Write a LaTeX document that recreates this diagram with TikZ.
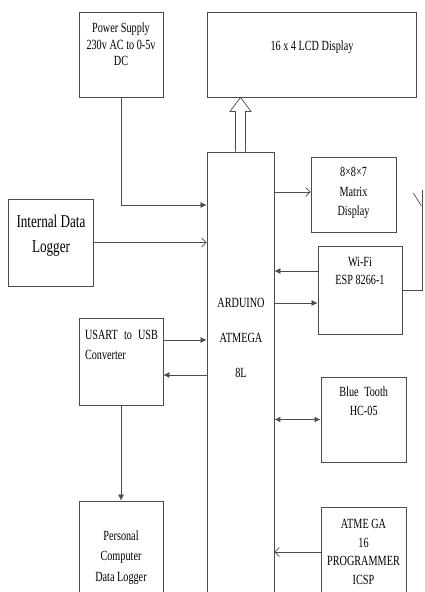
\documentclass[tikz,border=0pt]{standalone}
\usepackage{fontspec}
\setmainfont{Liberation Serif}[FakeStretch=0.73]
\usetikzlibrary{arrows.meta,calc}

\begin{document}
\begin{tikzpicture}[x=1pt,y=-1pt,
    blk/.style={draw=black!70,line width=0.8pt,inner sep=0pt},
    txt/.style={align=center,inner sep=0pt,font=\fontsize{14}{18.5}\selectfont},
    ln/.style={draw=black!70,line width=0.7pt},
    fa/.style={ln,-{Latex[length=6pt,width=6pt]}},
    oa/.style={ln,-{Straight Barb[length=4.5pt,width=9pt]}}]
  \clip (0,0) rectangle (425,592);
  \fill[white] (0,0) rectangle (425,592);
  % blocks
  \node[blk,minimum width=84pt,minimum height=85pt] (ps) at (121,54.5) {};
  \node[blk,minimum width=209pt,minimum height=85pt] (lcd) at (311.5,54.5) {};
  \node[blk,minimum width=67pt,minimum height=448pt] (ard) at (240.5,376) {};
  \node[blk,minimum width=85pt,minimum height=75pt] (mat) at (353.5,194.5) {};
  \node[blk,minimum width=84pt,minimum height=88pt] (wifi) at (360,290) {};
  \node[blk,minimum width=85pt,minimum height=87pt] (idl) at (50.5,242.5) {};
  \node[blk,minimum width=84pt,minimum height=87pt] (usart) at (121,361.5) {};
  \node[blk,minimum width=84pt,minimum height=99pt] (pc) at (121,550.5) {};
  \node[blk,minimum width=85pt,minimum height=85pt] (bt) at (363.5,419.5) {};
  \node[blk,minimum width=85pt,minimum height=93pt] (prog) at (363.5,553.5) {};
  % texts
  \node[txt,font=\fontsize{14}{16.5}\selectfont] (pstxt) at (121,44.5) {Power Supply\\230v AC to 0-5v\\DC};
  \node[txt] (lcdtxt) at (312,47) {16 x 4 LCD Display};
  \node[txt,font=\fontsize{14}{35}\selectfont] (ardtxt) at (241,338) {ARDUINO\\ATMEGA\\8L};
  \node[txt,font=\fontsize{14}{19.5}\selectfont] (mattxt) at (353.5,193) {8×8×7\\Matrix\\Display};
  \node[txt] (wifitxt) at (360,271) {Wi-Fi\\ESP 8266-1};
  \node[txt,font=\fontsize{18}{25}\selectfont] (idltxt) at (51,235.5) {Internal Data\\Logger};
  \node[txt,text width=73pt,align=left,font=\fontsize{14}{20}\selectfont] (ustxt) at (121.5,345) {USART\hfill to\hfill USB\\Converter};
  \node[txt,font=\fontsize{14}{20.5}\selectfont] (pctxt) at (121,557.5) {Personal\\Computer\\Data Logger};
  \node[txt] (bttxt) at (363.7,401) {Blue\hspace{3pt} Tooth\\HC-05};
  \node[txt] (progtxt) at (363.5,552) {ATME GA\\16\\PROGRAMMER\\ICSP};
  % connectors
  \draw[fa] (ps.south) |- (ard.west |- 0,205);
  \draw[oa] (idl.east) -- (idl.east -| ard.west);
  \draw[oa] (ard.east |- 0,192) -- (mat.west |- 0,192);
  \draw[fa] (wifi.west |- 0,271) -- (ard.east |- 0,271);
  \draw[fa] (ard.east |- 0,303) -- (wifi.west |- 0,303);
  \draw[fa] (usart.east |- 0,340) -- (ard.west |- 0,340);
  \draw[fa] (ard.west |- 0,375) -- (usart.east |- 0,375);
  \draw[fa] (usart.south) -- (pc.north);
  \draw[ln,line width=1.3pt,{Latex[length=6pt,width=6pt]}-{Latex[length=6pt,width=6pt]}] (ard.east |- bt.west) -- (bt.west);
  \draw[oa] (prog.west |- 0,552) -- (ard.east |- 0,552);
  % bus to the display
  \draw[ln,fill=white] ($(ard.north)+(-5,0)$) -- ($(ard.north |- lcd.south)+(-5,14)$) -- ++(-5.5,0)
    -- (ard.north |- lcd.south) -- ($(ard.north |- lcd.south)+(10.5,14)$) -- ++(-5.5,0) -- ($(ard.north)+(5,0)$);
  % antenna
  \draw[ln] (wifi.east) -- ++(20,0) coordinate (antb) -- ++(0,-100) coordinate (antt);
  \draw[ln] ($(antt)+(-9,3)$) -- ($(antt)+(-1,16)$);
\end{tikzpicture}
\end{document}
